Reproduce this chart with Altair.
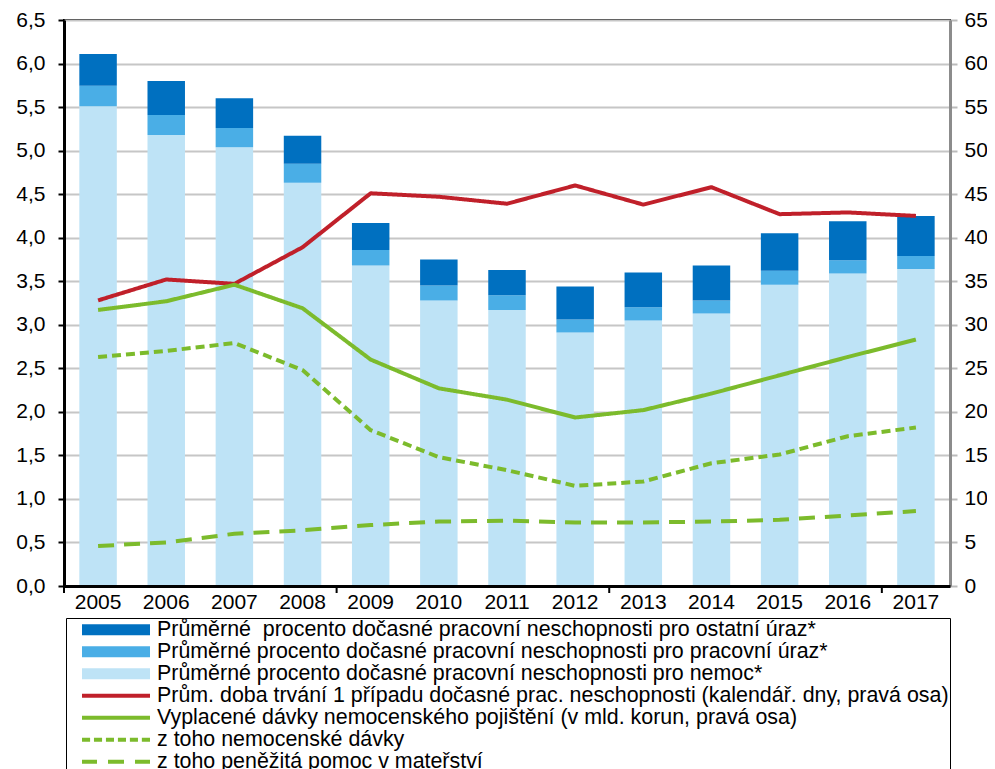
import altair as alt
import pandas as pd

FONT = "Liberation Sans"

years = ["2005", "2006", "2007", "2008", "2009", "2010", "2011",
         "2012", "2013", "2014", "2015", "2016", "2017"]

# left axis (%)
nemoc = [5.51, 5.18, 5.04, 4.63, 3.68, 3.28, 3.17, 2.91, 3.05, 3.13, 3.46, 3.59, 3.64]
prac_uraz = [0.235, 0.23, 0.22, 0.22, 0.18, 0.17, 0.17, 0.15, 0.15, 0.15, 0.16, 0.15, 0.15]
ostatni_uraz = [0.365, 0.39, 0.34, 0.32, 0.31, 0.30, 0.29, 0.38, 0.40, 0.40, 0.43, 0.45, 0.46]

# right axis
doba = [32.8, 35.2, 34.7, 38.9, 45.1, 44.7, 43.9, 46.0, 43.8, 45.8, 42.7, 42.9, 42.5]
davky = [31.7, 32.7, 34.6, 31.9, 26.0, 22.7, 21.4, 19.35, 20.2, 22.1, 24.2, 26.3, 28.3]
nemocenske = [26.3, 27.0, 27.9, 24.8, 17.9, 14.8, 13.3, 11.5, 12.0, 14.1, 15.1, 17.2, 18.2]
materstvi = [4.6, 5.0, 6.0, 6.4, 7.0, 7.4, 7.5, 7.3, 7.3, 7.4, 7.6, 8.1, 8.6]

bar_labels = [
    "Průměrné\u00a0 procento dočasné pracovní neschopnosti pro ostatní úraz*",
    "Průměrné procento dočasné pracovní neschopnosti pro pracovní úraz*",
    "Průměrné procento dočasné pracovní neschopnosti pro nemoc*",
]
line_labels = [
    "Prům. doba trvání 1 případu dočasné prac. neschopnosti (kalendář. dny, pravá osa)",
    "Vyplacené dávky nemocenského pojištění (v mld. korun, pravá osa)",
    "\u00a0\u00a0\u00a0z toho nemocenské dávky",
    "\u00a0\u00a0\u00a0z toho peněžitá pomoc v mateřství",
]
bar_colors = ["#0070C0", "#4AAEE6", "#BEE3F6"]
line_colors = ["#C0202A", "#7CBB2C", "#7CBB2C", "#7CBB2C"]
line_dashes = [[1, 0], [1, 0], [9, 5], [16, 10]]

tick_years = ["2005", "2009", "2013", "2017"]

# build tables
bar_rows = []
for i, y in enumerate(years):
    for k, (lab, vals) in enumerate([(bar_labels[2], nemoc), (bar_labels[1], prac_uraz), (bar_labels[0], ostatni_uraz)]):
        bar_rows.append({"year": y, "series": lab, "value": vals[i], "stack": k})
bar_df = pd.DataFrame(bar_rows)

line_rows = []
for lab, vals in zip(line_labels, [doba, davky, nemocenske, materstvi]):
    for i, y in enumerate(years):
        line_rows.append({"year": y, "series": lab, "value": vals[i]})
line_df = pd.DataFrame(line_rows)

tick_df = pd.DataFrame({"year": tick_years})

W, H = 886, 566


# legend symbol shapes (unit square -1..1 spans 68px)
def dash_path(segments, half):
    return " ".join(f"M{a:.3f},{-half}H{b:.3f}V{half}H{a:.3f}Z" for a, b in segments)


BAR_HALF, LINE_HALF = 0.165, 0.06
shape_bar = dash_path([(-1, 1)], BAR_HALF)
shape_line = dash_path([(-1, 1)], LINE_HALF)
shape_short = dash_path([(-1, -0.762), (-0.648, -0.41), (-0.296, -0.058),
                         (0.056, 0.294), (0.408, 0.646), (0.76, 1)], LINE_HALF)
shape_long = dash_path([(-1, -0.559), (-0.235, 0.235), (0.559, 1)], LINE_HALF)
shapes = [shape_bar] * 3 + [shape_line] * 2 + [shape_short, shape_long]
shape_expr = "[" + ",".join(f"'{s}'" for s in shapes) + "][datum.index]"

x_enc = alt.X(
    "year:N",
    scale=alt.Scale(domain=years, paddingInner=0, paddingOuter=0),
    axis=alt.Axis(title=None, ticks=False, labelAngle=0, domainColor="black", domainWidth=3,
                  labelFont=FONT, labelFontSize=21, labelColor="black", labelPadding=5, zindex=1),
)

legend = alt.Legend(
    title=None, orient="none", legendX=2, legendY=598, direction="vertical",
    symbolSize=4624, clipHeight=21.5, rowPadding=-1.3, labelOffset=7, symbolOffset=15,
    symbolStrokeWidth=0, symbolType={"expr": shape_expr},
    padding=1, strokeColor="black", labelFont=FONT, labelFontSize=21.4, labelColor="black",
    labelLimit=2000, symbolLimit=10,
)

bars = alt.Chart(bar_df).mark_bar(width={"band": 0.55}).encode(
    x=x_enc,
    y=alt.Y("value:Q", stack="zero",
            scale=alt.Scale(domain=[0, 6.5], nice=False, zero=True),
            axis=alt.Axis(title=None, values=[i * 0.5 for i in range(14)],
                          labelExpr="replace(format(datum.value, '.1f'), '.', ',')",
                          tickSize=6, tickColor="black", tickWidth=2,
                          domainColor="black", domainWidth=3,
                          gridColor="#C6C6C6", gridWidth=2,
                          labelFont=FONT, labelFontSize=21, labelColor="black", labelPadding=13)),
    fill=alt.Fill("series:N", scale=alt.Scale(domain=bar_labels + line_labels,
                                              range=bar_colors + line_colors), legend=legend),
    order=alt.Order("stack:Q", sort="ascending"),
)

ticks = alt.Chart(tick_df).mark_rule(color="black", strokeWidth=2).encode(
    x=alt.X("year:N", bandPosition=0,
            scale=alt.Scale(domain=years, paddingInner=0, paddingOuter=0)),
    y=alt.value(H),
    y2=alt.value(H + 7),
)

lines = alt.Chart(line_df).mark_line(strokeWidth=4, strokeJoin="round").encode(
    x=x_enc,
    y=alt.Y("value:Q",
            scale=alt.Scale(domain=[0, 65], nice=False),
            axis=alt.Axis(title=None, orient="right", values=[i * 5 for i in range(14)], format="d",
                          grid=False, tickSize=7, tickColor="#BBBBBB", tickWidth=2,
                          domainColor="#8C8C8C", domainWidth=3,
                          labelFont=FONT, labelFontSize=21, labelColor="black", labelPadding=7)),
    color=alt.Color("series:N", scale=alt.Scale(domain=line_labels, range=line_colors), legend=None),
    strokeDash=alt.StrokeDash("series:N", scale=alt.Scale(domain=line_labels, range=line_dashes), legend=None),
)

chart = alt.layer(bars, ticks, lines).resolve_scale(y="independent").properties(
    width=W, height=H,
    autosize=alt.AutoSizeParams(type="none"),
    padding={"left": 56, "top": 12, "right": 37, "bottom": 183},
).configure_view(stroke="black", strokeWidth=2)

chart.save("out.html", embed_options={"renderer": "svg", "actions": False})
